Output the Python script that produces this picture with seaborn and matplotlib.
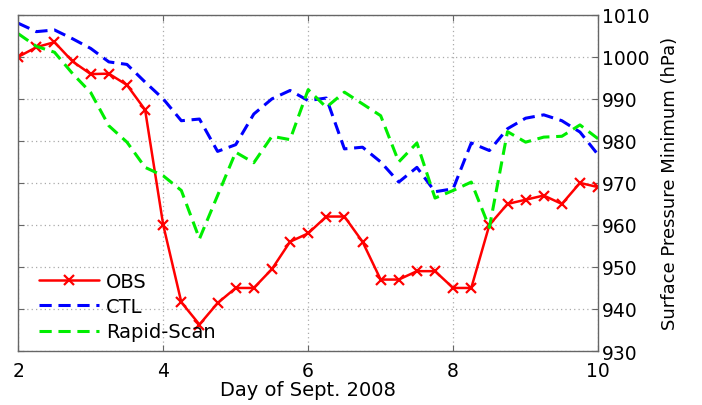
import numpy as np
import pandas as pd
import matplotlib
matplotlib.use('Agg')
import matplotlib.pyplot as plt
import seaborn as sns

# 6-hourly times, Sept 2 to Sept 10
days = np.arange(2, 10.001, 0.25)

obs = [1000, 1002.3, 1003.5, 998.9, 995.9, 996, 993.3, 987.4,
       960, 941.6, 936.3, 941.4, 945, 945, 949.5, 956,
       958, 962, 962, 956, 947, 947, 949, 949,
       945, 945, 960, 965, 966, 967, 965, 970, 969]

ctl = [1008, 1006, 1006.4, 1004.3, 1002, 998.8, 998.2, 994,
       990, 984.8, 985.2, 977.5, 979.1, 986.4, 990, 992,
       989.6, 990.2, 978.1, 978.5, 975, 970.2, 973.7, 967.9,
       968.6, 979.5, 977.7, 982.9, 985.4, 986.2, 984.8, 982.1, 976.7]

rapid = [1005.5, 1002.5, 1001.1, 996, 991.5, 983.6, 979.7, 973.7,
         971.7, 968.2, 956.7, 967, 977.3, 974.8, 981.1, 980.3,
         992.2, 988, 991.6, 988.8, 986, 975, 979.5, 966.4,
         968.2, 970.2, 959.4, 982.2, 979.7, 980.9, 981.1, 983.8, 980.5]

df = pd.DataFrame({'day': days, 'OBS': obs, 'CTL': ctl, 'Rapid-Scan': rapid})

sns.set_style('white')
plt.rcParams['font.family'] = ['DejaVu Sans']
plt.rcParams['text.color'] = 'black'
plt.rcParams['axes.labelcolor'] = 'black'

fig = plt.figure(figsize=(7.02, 4.06), dpi=100)
ax = fig.add_axes([0.026, 0.133, 0.826, 0.828])

sns.lineplot(x='day', y='OBS', data=df, ax=ax, color='#ff0000', lw=1.8,
             marker='x', markersize=7, markeredgewidth=1.6,
             markeredgecolor='#ff0000', label='OBS')
sns.lineplot(x='day', y='CTL', data=df, ax=ax, color='#0000ff', lw=2.2,
             label='CTL')
sns.lineplot(x='day', y='Rapid-Scan', data=df, ax=ax, color='#00ee00', lw=2.2,
             label='Rapid-Scan')
ax.lines[1].set_dashes([4, 2.2])
ax.lines[2].set_dashes([4, 2.2])

ax.set_xlim(2, 10)
ax.set_ylim(930, 1010)
ax.set_xticks([2, 4, 6, 8, 10])
ax.set_yticks(np.arange(930, 1011, 10))

ax.grid(True, linestyle=(0, (1, 2.5)), color='#aaaaaa', lw=0.9)
for s in ax.spines.values():
    s.set_color('#666666')
    s.set_linewidth(1.0)

ax.yaxis.set_label_position('right')
ax.tick_params(direction='in', length=4, color='#666666', labelcolor='black',
               labelsize=13.5, left=True, right=True, top=True, bottom=True,
               labelleft=False, labelright=True, pad=3)
ax.tick_params(axis='x', pad=7)
ax.set_xlabel('Day of Sept. 2008', fontsize=14, labelpad=0)
ax.set_ylabel('Surface Pressure Minimum (hPa)', fontsize=13, labelpad=8)

leg = ax.legend(loc='lower left', frameon=False, fontsize=14,
                handlelength=3.1, handletextpad=0.35, labelspacing=0.33,
                borderaxespad=0.3, bbox_to_anchor=(0.012, -0.012))
for h in leg.get_lines()[1:]:
    h.set_dashes([4, 2.2])

fig.savefig('out.png', dpi=100)
